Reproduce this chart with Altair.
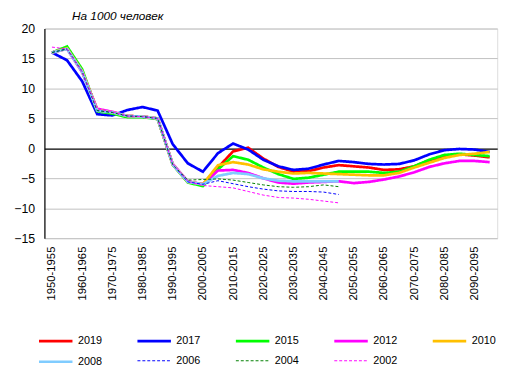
import altair as alt
import pandas as pd

periods = ["1950-1955", "1955-1960", "1960-1965", "1965-1970", "1970-1975", "1975-1980",
           "1980-1985", "1985-1990", "1990-1995", "1995-2000", "2000-2005", "2005-2010",
           "2010-2015", "2015-2020", "2020-2025", "2025-2030", "2030-2035", "2035-2040",
           "2040-2045", "2045-2050", "2050-2055", "2055-2060", "2060-2065", "2065-2070",
           "2070-2075", "2075-2080", "2080-2085", "2085-2090", "2090-2095", "2095-2100"]

editions = ["2019", "2017", "2015", "2012", "2010", "2008", "2006", "2004", "2002"]

v2019 = [16.0, 16.7, 12.9, 6.4, 6.0, 5.4, 5.3, 5.0, -2.7, -5.6, -6.0, -3.2, -0.5, 0.1, -1.7,
         -3.1, -3.9, -3.8, -3.2, -2.8, -3.0, -3.2, -3.6, -3.5, -3.0, -2.0, -1.4, -1.0, -1.2, -1.5]
v2017 = [16.0, 14.7, 11.2, 5.7, 5.5, 6.4, 6.9, 6.3, 0.7, -2.5, -3.9, -0.8, 0.8, -0.2, -1.9,
         -3.0, -3.6, -3.4, -2.7, -2.1, -2.3, -2.6, -2.7, -2.6, -2.0, -1.0, -0.3, -0.1, -0.2, -0.6]
v2015 = [16.0, 17.0, 13.2, 6.2, 5.8, 5.2, 5.2, 4.9, -2.7, -5.7, -6.3, -3.5, -1.3, -1.9, -3.2,
         -4.3, -5.1, -4.9, -4.4, -3.9, -3.9, -3.9, -4.1, -3.9, -3.0, -1.9, -1.1, -0.9, -1.1, -1.3]
v2012 = [16.0, 16.6, 12.7, 6.6, 6.1, 5.4, 5.3, 5.0, -2.6, -5.5, -6.0, -3.7, -3.6, -4.1, -5.0,
         -5.7, -5.9, -5.7, -5.6, -5.5, -5.8, -5.6, -5.2, -4.7, -4.0, -3.1, -2.5, -2.1, -2.1, -2.3]
v2010 = [16.0, 16.7, 12.9, 6.4, 6.0, 5.4, 5.3, 5.0, -2.7, -5.6, -6.0, -2.8, -2.3, -2.7, -3.5,
         -3.9, -4.2, -4.1, -4.2, -4.3, -4.4, -4.5, -4.5, -4.1, -3.2, -2.4, -1.6, -1.1, -0.9, -0.6]
v2008 = [16.0, 16.6, 12.8, 6.3, 6.0, 5.4, 5.3, 5.0, -2.7, -5.6, -6.0, -4.6, -4.1, -4.3, -5.0,
         -5.4, -5.5, -5.5, -5.5, -5.5]
v2006 = [16.0, 16.6, 12.8, 6.3, 6.0, 5.4, 5.3, 5.0, -2.7, -5.6, -6.0, -5.4, -5.9, -6.4, -6.8,
         -7.1, -7.2, -7.2, -7.3, -7.7]
v2004 = [16.0, 16.6, 12.8, 6.3, 6.0, 5.4, 5.3, 5.0, -2.7, -5.3, -5.2, -5.1, -5.3, -5.7, -6.1,
         -6.4, -6.5, -6.4, -6.1, -6.4]
v2002 = [16.9, 16.6, 12.8, 6.6, 6.1, 5.4, 5.3, 5.0, -2.6, -5.5, -6.2, -6.4, -6.6, -7.2, -7.8,
         -8.2, -8.3, -8.5, -8.8, -9.1]

series = {"2019": v2019, "2017": v2017, "2015": v2015, "2012": v2012, "2010": v2010,
          "2008": v2008, "2006": v2006, "2004": v2004, "2002": v2002}

colors = ["#FF0000", "#0000FF", "#00FF00", "#FF00FF", "#FFC000", "#80CCFF",
          "#0000FF", "#008000", "#FF00FF"]
widths = [2.75, 2.75, 2.75, 2.75, 2.75, 2.75, 1.0, 1.0, 1.0]
dashes = [[1, 0]] * 6 + [[3, 2]] * 3
y_ticks = [-15, -10, -5, 0, 5, 10, 15, 20]

rows = []
for ed, vals in series.items():
    for i, v in enumerate(vals):
        rows.append({"period": periods[i], "value": v, "edition": ed})
df = pd.DataFrame(rows)

font = "Liberation Sans"

legend = alt.Legend(
    title=None, orient="none", legendX=5, legendY=311, direction="horizontal",
    columns=5, symbolType="M-3.4,0H3.4", symbolSize=100, labelOffset=16,
    columnPadding=30, rowPadding=8, labelFontSize=11, labelFont=font,
    labelColor="black", gridAlign="each",
)

chart = alt.Chart(df).mark_line(clip=False).encode(
    x=alt.X("period:N", sort=periods, scale=alt.Scale(domain=periods),
            axis=alt.Axis(values=periods[::2], labelAngle=270, ticks=False, domain=False,
                          grid=False, labelFontSize=11.5, labelFont=font,
                          labelColor="black", labelPadding=8, title=None,
                          labelBaseline="middle", labelAlign="right",
                          labelOverlap=False)),
    y=alt.Y("value:Q", scale=alt.Scale(domain=[-15, 20], nice=False, zero=False),
            axis=alt.Axis(values=y_ticks, ticks=False, grid=True,
                          gridColor=alt.condition("datum.value == 0",
                                                  alt.value("black"),
                                                  alt.value("#C0C0C0")),
                          gridWidth=alt.condition("datum.value == 0",
                                                  alt.value(1.2), alt.value(1)),
                          domainColor="black", domainWidth=1.2,
                          labelFontSize=12.5, labelFont=font, labelColor="black",
                          labelPadding=10, title=None, labelOverlap=False,
                          labelFlush=False, labelBound=False)),
    color=alt.Color("edition:N", sort=editions,
                    scale=alt.Scale(domain=editions, range=colors), legend=legend),
    strokeWidth=alt.StrokeWidth("edition:N", sort=editions,
                                scale=alt.Scale(type="ordinal", domain=editions,
                                                range=widths),
                                legend=legend),
    strokeDash=alt.StrokeDash("edition:N", sort=editions,
                              scale=alt.Scale(domain=editions, range=dashes),
                              legend=legend),
).properties(
    width=460, height=213,
    title=alt.TitleParams("На 1000 человек", anchor="start", frame="group",
                          fontStyle="italic", fontWeight="normal", fontSize=12,
                          font=font, color="black", dx=28, offset=0),
    autosize=alt.AutoSizeParams(type="none"),
    padding={"left": 37, "top": 18, "right": 14, "bottom": 130},
).configure_view(stroke="#8C8C8C", strokeWidth=1.2).configure(background="white")

chart.save("out.html", embed_options={"renderer": "svg", "actions": False})
